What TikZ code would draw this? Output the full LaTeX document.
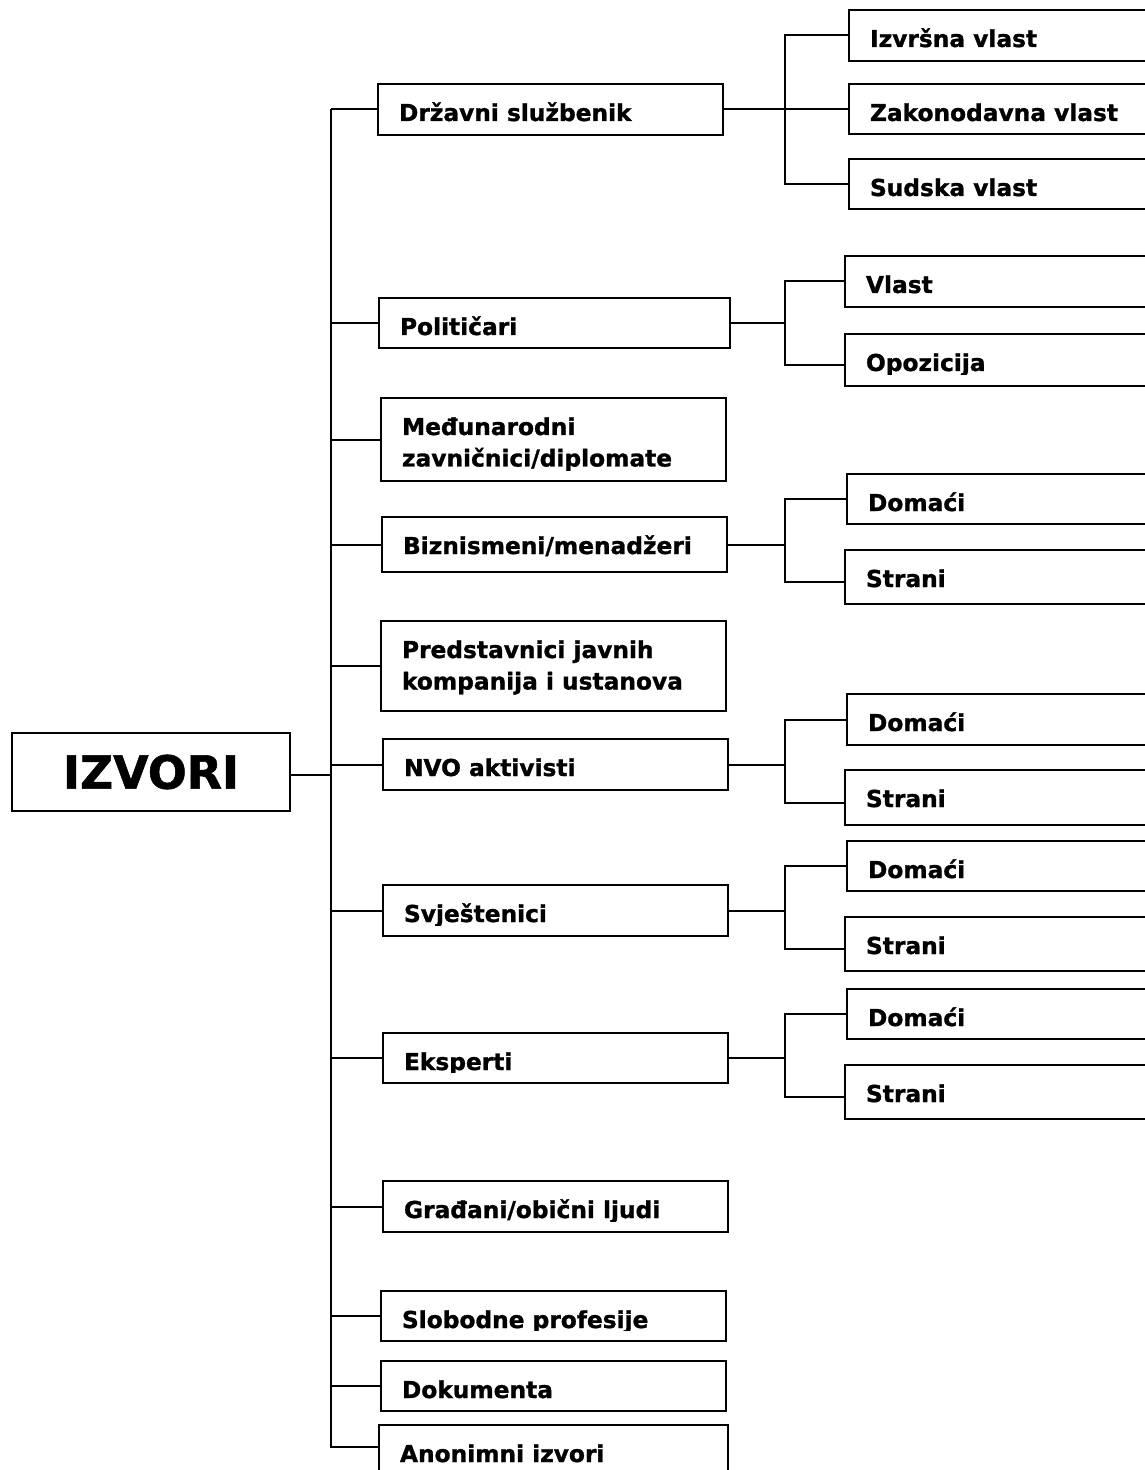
\documentclass[tikz,border=0pt]{standalone}
\usepackage{fontspec}
\setmainfont{DejaVu Sans}[BoldFeatures={FakeBold=1.2}]
\usetikzlibrary{fit}
\tikzset{
  bx/.style={draw=black, line width=1pt, inner sep=0pt, outer sep=0pt, rectangle},
  lbl/.style={inner sep=0pt, outer sep=0pt, font=\fontsize{11.65pt}{15.75pt}\selectfont\bfseries, anchor=base west},
  conn/.style={draw=black, line width=1pt},
  bigtxt/.style={font=\fontsize{22.9pt}{26pt}\selectfont\bfseries}
}
% name, left, top, right, bottom, text
\newcommand\mkbox[6]{%
  \node[bx, fit={(#2,#3) (#4,#5)}] (#1) {};
  \begin{scope}
    \clip (#2,#3) rectangle (#4,#5-11);
    \node[lbl] (#1t) at (#2+21,#3+37) {#6};
  \end{scope}}
% parent, first child, second child
\newcommand\twogroup[3]{%
  \coordinate (#3c) at ([yshift=-2.5pt]#3.west);
  \draw[conn] (#1.east) -- (#1.east -| br);
  \draw[conn] (#2.west) -| (br |- #3c) -- (#3c);}
\begin{document}
\begin{tikzpicture}[x=0.5pt, y=-0.5pt]
\useasboundingbox (0,0) rectangle (1144,1470);
\coordinate (tk) at (331,0);
\coordinate (br) at (785,0);
\coordinate (tkbot) at (331,1447);

\node[bx, minimum width=139pt, minimum height=39pt, bigtxt] (izvori) at (151,772) {IZVORI};

% level 1
\mkbox{drz}{378}{84}{723}{135}{Državni službenik}
\mkbox{pol}{379}{298}{730}{348}{Političari}
\mkbox{med}{381}{398}{726}{481}{\vtop{\hbox{Međunarodni}\hbox{zavničnici/diplomate}}}
\mkbox{biz}{382}{517}{727}{572}{Biznismeni/menadžeri}
\mkbox{pre}{381}{621}{726}{711}{\vtop{\hbox{Predstavnici javnih}\hbox{kompanija i ustanova}}}
\mkbox{nvo}{383}{739}{728}{790}{NVO aktivisti}
\mkbox{svj}{383}{885}{728}{936}{Svještenici}
\mkbox{eks}{383}{1033}{728}{1083}{Eksperti}
\mkbox{gra}{383}{1181}{728}{1232}{Građani/obični ljudi}
\mkbox{slo}{381}{1291}{726}{1341}{Slobodne profesije}
\mkbox{dok}{381}{1361}{726}{1411}{Dokumenta}
\mkbox{ano}{379}{1425}{728}{1490}{Anonimni izvori}

% level 2
\mkbox{a1}{849}{10}{1160}{61}{Izvršna vlast}
\mkbox{a2}{849}{84}{1160}{134}{Zakonodavna vlast}
\mkbox{a3}{849}{159}{1160}{209}{Sudska vlast}
\mkbox{b1}{845}{256}{1160}{307}{Vlast}
\mkbox{b2}{845}{334}{1160}{386}{Opozicija}
\mkbox{c1}{847}{474}{1160}{524}{Domaći}
\mkbox{c2}{845}{550}{1160}{604}{Strani}
\mkbox{d1}{847}{694}{1160}{745}{Domaći}
\mkbox{d2}{845}{770}{1160}{825}{Strani}
\mkbox{e1}{847}{841}{1160}{891}{Domaći}
\mkbox{e2}{845}{917}{1160}{971}{Strani}
\mkbox{f1}{847}{989}{1160}{1039}{Domaći}
\mkbox{f2}{845}{1065}{1160}{1119}{Strani}

% trunk
\coordinate (izc) at ([yshift=-1.5pt]izvori.east);
\draw[conn] (izc) -- (izc -| tk);
\draw[conn] (drz.west -| tk) -- (tkbot) -- (tkbot -| ano.west);
\foreach \n in {drz,pol,med,biz,pre,nvo,svj,eks,gra,slo,dok}
  \draw[conn] (\n.west -| tk) -- (\n.west);

% branches
\draw[conn] (drz.east) -- (drz.east -| br);
\draw[conn] (a1.west) -| (br |- a3.west) -- (a3.west);
\draw[conn] (a2.west) -- (a2.west -| br);
\twogroup{pol}{b1}{b2}
\twogroup{biz}{c1}{c2}
\twogroup{nvo}{d1}{d2}
\twogroup{svj}{e1}{e2}
\twogroup{eks}{f1}{f2}
\end{tikzpicture}
\end{document}
